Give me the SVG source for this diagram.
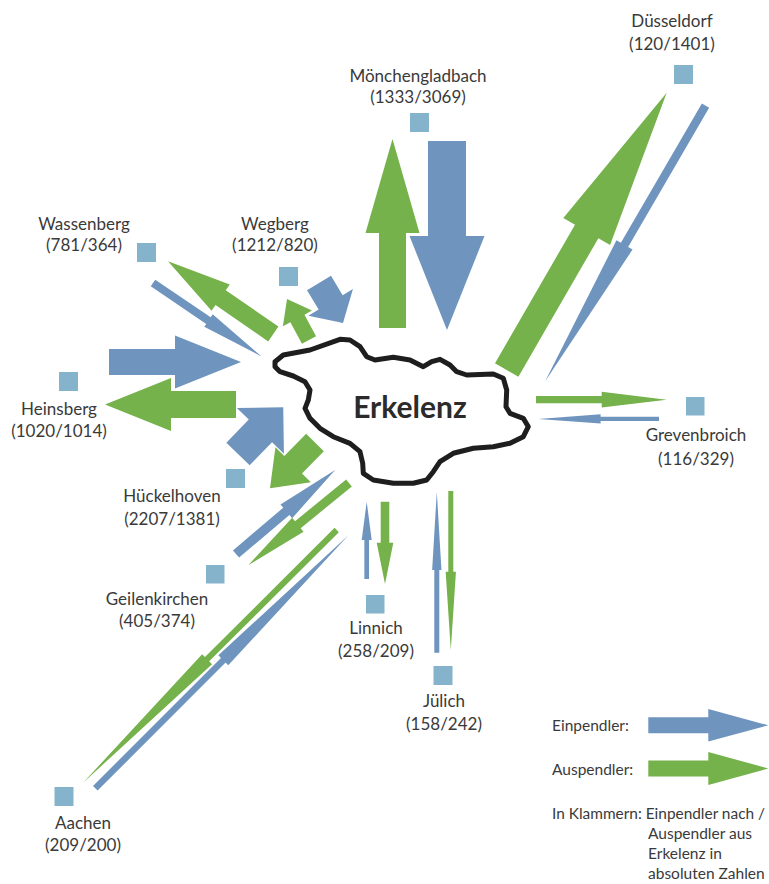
<svg xmlns="http://www.w3.org/2000/svg" width="769" height="884" viewBox="0 0 769 884">
<style>
.lbl{font-family:Lato,"Liberation Sans",sans-serif;font-size:17px;fill:#3a3a3a;text-anchor:middle}
.leg{font-family:Lato,"Liberation Sans",sans-serif;font-size:15.5px;fill:#3a3a3a}
.sq{fill:#85b3cc}
.in{fill:#6f95bf}
.out{fill:#76b24b}
.city{fill:#ffffff;stroke:#1e1e1e;stroke-width:5;stroke-linejoin:round}
.title{font-family:Lato,"Liberation Sans",sans-serif;font-size:30px;font-weight:bold;fill:#2b2b2b;text-anchor:middle}
</style>
<rect width="769" height="884" fill="#ffffff"/>

<g id="connectors">
  <polygon class="out" points="0,-13.5 95,-13.5 95,-27 189,0 95,27 95,13.5 0,13.5" transform="translate(392.5,328) rotate(-90)"/>
  <polygon class="in" points="0,-19 95,-19 95,-37.5 189,0 95,37.5 95,19 0,19" transform="translate(447,141) rotate(90)"/>
  <polygon class="out" points="0,-13.5 160,-13.5 160,-27 320,0 160,27 160,13.5 0,13.5" transform="translate(506.7,370) rotate(-60)"/>
  <polygon class="in" points="0,-4.2 161,-4.2 161,-9.3 319,0 161,9.3 161,4.2 0,4.2" transform="translate(705.5,105.7) rotate(120.2)"/>
  <polygon class="out" points="0,-9 64,-9 64,-16 128,0 64,16 64,9 0,9" transform="translate(273.3,334) rotate(214.65)"/>
  <polygon class="in" points="0,-4 67,-4 67,-7.5 131,0 67,7.5 67,4 0,4" transform="translate(153,283) rotate(34.1)"/>
  <polygon class="out" points="0,-8 24.5,-8 24.5,-16.5 46.5,0 24.5,16.5 24.5,8 0,8" transform="translate(309,340) rotate(241.8)"/>
  <polygon class="in" points="0,-14 22.6,-14 22.6,-26 46.6,0 22.6,26 22.6,14 0,14" transform="translate(319,283) rotate(59)"/>
  <polygon class="in" points="0,-13 66,-13 66,-26.5 132,0 66,26.5 66,13 0,13" transform="translate(109,362)"/>
  <polygon class="out" points="0,-13.5 65,-13.5 65,-26.5 131,0 65,26.5 65,13.5 0,13.5" transform="translate(236,404.5) rotate(180)"/>
  <polygon class="in" points="0,-16.2 32.2,-16.2 32.2,-32.75 65,0 32.2,32.75 32.2,16.2 0,16.2" transform="translate(238,454) rotate(-45.9)"/>
  <polygon class="out" points="0,-12.4 31.2,-12.4 31.2,-24.85 64.2,0 31.2,24.85 31.2,12.4 0,12.4" transform="translate(315,442.5) rotate(134.5)"/>
  <polygon class="in" points="0,-4.75 66,-4.75 66,-9 130,0 66,9 66,4.75 0,4.75" transform="translate(236,554) rotate(-40.3)"/>
  <polygon class="out" points="0,-4.5 66,-4.5 66,-9 130,0 66,9 66,4.5 0,4.5" transform="translate(349,483) rotate(140.8)"/>
  <polygon class="out" points="0,-3 183,-3 183,-7 358,0 183,7 183,3 0,3" transform="translate(336.7,530) rotate(135.1)"/>
  <polygon class="in" points="0,-3.25 181,-3.25 181,-7 358,0 181,7 181,3.25 0,3.25" transform="translate(95.3,788.3) rotate(-45)"/>
  <polygon class="in" points="0,-2.35 39,-2.35 39,-5 77.3,0 39,5 39,2.35 0,2.35" transform="translate(366.7,579) rotate(-90)"/>
  <polygon class="out" points="0,-4.3 41,-4.3 41,-8.3 82.3,0 41,8.3 41,4.3 0,4.3" transform="translate(385,501.7) rotate(90)"/>
  <polygon class="in" points="0,-2.5 82.7,-2.5 82.7,-4.65 161,0 82.7,4.65 82.7,2.5 0,2.5" transform="translate(436.8,652.7) rotate(-90)"/>
  <polygon class="out" points="0,-2.5 80.7,-2.5 80.7,-5.15 159,0 80.7,5.15 80.7,2.5 0,2.5" transform="translate(450.8,491) rotate(90)"/>
  <polygon class="out" points="0,-3.65 65.7,-3.65 65.7,-7.85 130.7,0 65.7,7.85 65.7,3.65 0,3.65" transform="translate(536,399.7)"/>
  <polygon class="in" points="0,-2.15 58.4,-2.15 58.4,-4.65 120.7,0 58.4,4.65 58.4,2.15 0,2.15" transform="translate(659,418.9) rotate(180)"/>
</g>

<g id="erkelenz">
  <polygon class="city" points="275,361.7 283.3,355 310,350 340,339.3 350,340 360,346.7 366.7,356.7 375,360 393.3,357.3 410,360 423.3,366.7 431.7,361.7 440,359.3 450,365 456.7,371.7 466.7,375 493.3,374 503.3,378.3 506.7,390 506,406.7 510,413.3 523.3,418.3 528.3,426.7 523.3,436.7 510,443.3 493.3,446.7 473.3,448.3 453.3,453.3 440,461.7 433.3,471.7 426.7,480 413.3,483.3 393.3,483.3 373.3,480 363.3,473.3 362.7,463.3 360,451.7 350,443.3 333.3,436.7 320,428.3 310,418.3 305,408.3 308.3,400 310,390 305,381.7 293.3,376 280,371.7 275,366.7"/>
  <text class="title" x="410" y="418">Erkelenz</text>
</g>

<g id="duesseldorf">
  <rect class="sq" x="674" y="65" width="19" height="19"/>
  <text class="lbl" x="672" y="27">Düsseldorf</text>
  <text class="lbl" x="672" y="50">(120/1401)</text>
</g>
<g id="moenchengladbach">
  <rect class="sq" x="410" y="113" width="19" height="19"/>
  <text class="lbl" x="418" y="82">Mönchengladbach</text>
  <text class="lbl" x="418" y="103">(1333/3069)</text>
</g>
<g id="wassenberg">
  <rect class="sq" x="137" y="243" width="19" height="19"/>
  <text class="lbl" x="84" y="230">Wassenberg</text>
  <text class="lbl" x="84" y="251">(781/364)</text>
</g>
<g id="wegberg">
  <rect class="sq" x="279" y="267" width="19" height="19"/>
  <text class="lbl" x="275" y="230">Wegberg</text>
  <text class="lbl" x="275" y="251">(1212/820)</text>
</g>
<g id="heinsberg">
  <rect class="sq" x="59" y="372" width="19" height="19"/>
  <text class="lbl" x="59" y="415">Heinsberg</text>
  <text class="lbl" x="59" y="437">(1020/1014)</text>
</g>
<g id="grevenbroich">
  <rect class="sq" x="686" y="397" width="18.5" height="18.5"/>
  <text class="lbl" x="696" y="441">Grevenbroich</text>
  <text class="lbl" x="696" y="465">(116/329)</text>
</g>
<g id="hueckelhoven">
  <rect class="sq" x="226" y="469" width="19" height="19"/>
  <text class="lbl" x="172" y="502">Hückelhoven</text>
  <text class="lbl" x="172" y="525">(2207/1381)</text>
</g>
<g id="geilenkirchen">
  <rect class="sq" x="206" y="565" width="18.5" height="18.5"/>
  <text class="lbl" x="157" y="605">Geilenkirchen</text>
  <text class="lbl" x="157" y="627">(405/374)</text>
</g>
<g id="linnich">
  <rect class="sq" x="366" y="595" width="18.5" height="18.5"/>
  <text class="lbl" x="376" y="634">Linnich</text>
  <text class="lbl" x="376" y="657">(258/209)</text>
</g>
<g id="juelich">
  <rect class="sq" x="433.5" y="666" width="19" height="19"/>
  <text class="lbl" x="444" y="707">Jülich</text>
  <text class="lbl" x="444" y="730">(158/242)</text>
</g>
<g id="aachen">
  <rect class="sq" x="54.5" y="787" width="19" height="19"/>
  <text class="lbl" x="83" y="829">Aachen</text>
  <text class="lbl" x="83" y="851">(209/200)</text>
</g>

<g id="legend">
  <text class="leg" x="552" y="731">Einpendler:</text>
  <polygon class="in" points="0,-8 60,-8 60,-16.2 120,0 60,16.2 60,8 0,8" transform="translate(648.3,725.3)"/>
  <text class="leg" x="552" y="775">Auspendler:</text>
  <polygon class="out" points="0,-8 60,-8 60,-16.6 120,0 60,16.6 60,8 0,8" transform="translate(648.3,768.5)"/>
  <text class="leg" x="552" y="819" textLength="213" lengthAdjust="spacingAndGlyphs">In Klammern: Einpendler nach /</text>
  <text class="leg" x="648" y="839">Auspendler aus</text>
  <text class="leg" x="648" y="859">Erkelenz in</text>
  <text class="leg" x="648" y="879">absoluten Zahlen</text>
</g>
</svg>
